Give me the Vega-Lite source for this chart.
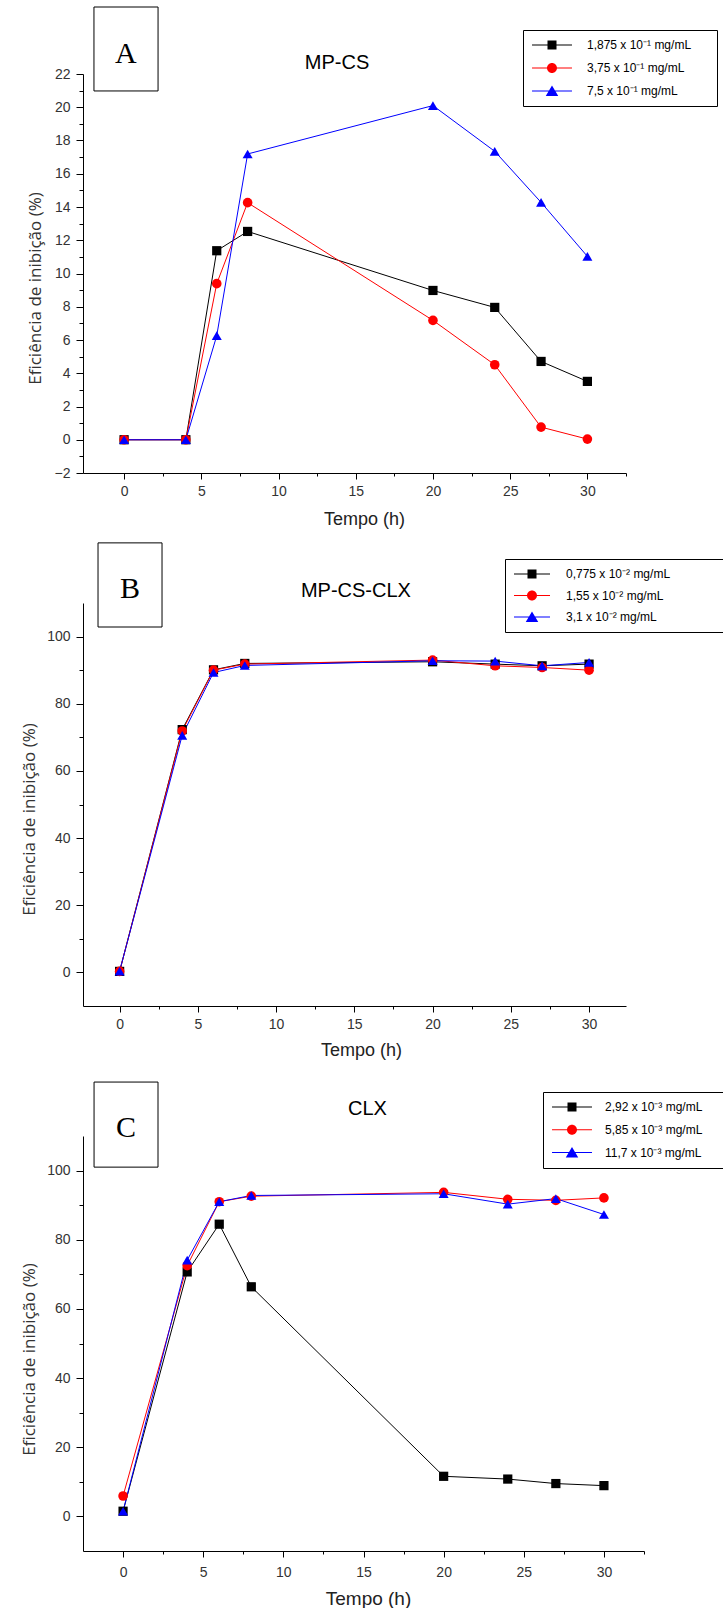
{
  "$schema": "https://vega.github.io/schema/vega-lite/v6.json",
  "background": "white",
  "padding": {"left": 20, "top": 6, "right": 0, "bottom": 0},
  "config": {"view": {"stroke": null}, "font": "Liberation Sans", "axis": {"grid": false}},
  "datasets": {
    "A": [
      {"series": "1,875 x 10⁻¹ mg/mL", "t": 0, "v": 0},
      {"series": "1,875 x 10⁻¹ mg/mL", "t": 4, "v": 0},
      {"series": "1,875 x 10⁻¹ mg/mL", "t": 6, "v": 11.37},
      {"series": "1,875 x 10⁻¹ mg/mL", "t": 8, "v": 12.53},
      {"series": "1,875 x 10⁻¹ mg/mL", "t": 20, "v": 8.98},
      {"series": "1,875 x 10⁻¹ mg/mL", "t": 24, "v": 7.96},
      {"series": "1,875 x 10⁻¹ mg/mL", "t": 27, "v": 4.71},
      {"series": "1,875 x 10⁻¹ mg/mL", "t": 30, "v": 3.51},
      {"series": "3,75 x 10⁻¹ mg/mL", "t": 0, "v": 0},
      {"series": "3,75 x 10⁻¹ mg/mL", "t": 4, "v": 0},
      {"series": "3,75 x 10⁻¹ mg/mL", "t": 6, "v": 9.39},
      {"series": "3,75 x 10⁻¹ mg/mL", "t": 8, "v": 14.26},
      {"series": "3,75 x 10⁻¹ mg/mL", "t": 20, "v": 7.18},
      {"series": "3,75 x 10⁻¹ mg/mL", "t": 24, "v": 4.51},
      {"series": "3,75 x 10⁻¹ mg/mL", "t": 27, "v": 0.76},
      {"series": "3,75 x 10⁻¹ mg/mL", "t": 30, "v": 0.04},
      {"series": "7,5 x 10⁻¹ mg/mL", "t": 0, "v": 0},
      {"series": "7,5 x 10⁻¹ mg/mL", "t": 4, "v": 0},
      {"series": "7,5 x 10⁻¹ mg/mL", "t": 6, "v": 6.26},
      {"series": "7,5 x 10⁻¹ mg/mL", "t": 8, "v": 17.19},
      {"series": "7,5 x 10⁻¹ mg/mL", "t": 20, "v": 20.1},
      {"series": "7,5 x 10⁻¹ mg/mL", "t": 24, "v": 17.35},
      {"series": "7,5 x 10⁻¹ mg/mL", "t": 27, "v": 14.28},
      {"series": "7,5 x 10⁻¹ mg/mL", "t": 30, "v": 11.03}
    ],
    "B": [
      {"series": "0,775 x 10⁻² mg/mL", "t": 0, "v": 0.3},
      {"series": "0,775 x 10⁻² mg/mL", "t": 4, "v": 72.3},
      {"series": "0,775 x 10⁻² mg/mL", "t": 6, "v": 90.1},
      {"series": "0,775 x 10⁻² mg/mL", "t": 8, "v": 92.0},
      {"series": "0,775 x 10⁻² mg/mL", "t": 20, "v": 92.5},
      {"series": "0,775 x 10⁻² mg/mL", "t": 24, "v": 91.8},
      {"series": "0,775 x 10⁻² mg/mL", "t": 27, "v": 91.3},
      {"series": "0,775 x 10⁻² mg/mL", "t": 30, "v": 91.8},
      {"series": "1,55 x 10⁻² mg/mL", "t": 0, "v": 0.3},
      {"series": "1,55 x 10⁻² mg/mL", "t": 4, "v": 71.9},
      {"series": "1,55 x 10⁻² mg/mL", "t": 6, "v": 90.0},
      {"series": "1,55 x 10⁻² mg/mL", "t": 8, "v": 91.8},
      {"series": "1,55 x 10⁻² mg/mL", "t": 20, "v": 93.0},
      {"series": "1,55 x 10⁻² mg/mL", "t": 24, "v": 91.3},
      {"series": "1,55 x 10⁻² mg/mL", "t": 27, "v": 90.8},
      {"series": "1,55 x 10⁻² mg/mL", "t": 30, "v": 90.0},
      {"series": "3,1 x 10⁻² mg/mL", "t": 0, "v": 0.4},
      {"series": "3,1 x 10⁻² mg/mL", "t": 4, "v": 70.6},
      {"series": "3,1 x 10⁻² mg/mL", "t": 6, "v": 89.3},
      {"series": "3,1 x 10⁻² mg/mL", "t": 8, "v": 91.4},
      {"series": "3,1 x 10⁻² mg/mL", "t": 20, "v": 92.8},
      {"series": "3,1 x 10⁻² mg/mL", "t": 24, "v": 92.7},
      {"series": "3,1 x 10⁻² mg/mL", "t": 27, "v": 91.3},
      {"series": "3,1 x 10⁻² mg/mL", "t": 30, "v": 92.3}
    ],
    "C": [
      {"series": "2,92 x 10⁻³ mg/mL", "t": 0, "v": 1.5},
      {"series": "2,92 x 10⁻³ mg/mL", "t": 4, "v": 70.7},
      {"series": "2,92 x 10⁻³ mg/mL", "t": 6, "v": 84.5},
      {"series": "2,92 x 10⁻³ mg/mL", "t": 8, "v": 66.4},
      {"series": "2,92 x 10⁻³ mg/mL", "t": 20, "v": 11.6},
      {"series": "2,92 x 10⁻³ mg/mL", "t": 24, "v": 10.8},
      {"series": "2,92 x 10⁻³ mg/mL", "t": 27, "v": 9.5},
      {"series": "2,92 x 10⁻³ mg/mL", "t": 30, "v": 8.9},
      {"series": "5,85 x 10⁻³ mg/mL", "t": 0, "v": 5.9},
      {"series": "5,85 x 10⁻³ mg/mL", "t": 4, "v": 72.5},
      {"series": "5,85 x 10⁻³ mg/mL", "t": 6, "v": 91.0},
      {"series": "5,85 x 10⁻³ mg/mL", "t": 8, "v": 92.6},
      {"series": "5,85 x 10⁻³ mg/mL", "t": 20, "v": 93.7},
      {"series": "5,85 x 10⁻³ mg/mL", "t": 24, "v": 91.7},
      {"series": "5,85 x 10⁻³ mg/mL", "t": 27, "v": 91.4},
      {"series": "5,85 x 10⁻³ mg/mL", "t": 30, "v": 92.1},
      {"series": "11,7 x 10⁻³ mg/mL", "t": 0, "v": 1.5},
      {"series": "11,7 x 10⁻³ mg/mL", "t": 4, "v": 74.1},
      {"series": "11,7 x 10⁻³ mg/mL", "t": 6, "v": 91.0},
      {"series": "11,7 x 10⁻³ mg/mL", "t": 8, "v": 92.8},
      {"series": "11,7 x 10⁻³ mg/mL", "t": 20, "v": 93.3},
      {"series": "11,7 x 10⁻³ mg/mL", "t": 24, "v": 90.3},
      {"series": "11,7 x 10⁻³ mg/mL", "t": 27, "v": 91.9},
      {"series": "11,7 x 10⁻³ mg/mL", "t": 30, "v": 87.3}
    ]
  },
  "vconcat": [
    {
      "width": 543,
      "height": 399,
      "layer": [
        {
          "data": {"name": "A"},
          "mark": {"type": "line", "strokeWidth": 1},
          "encoding": {
            "x": {"field": "t", "type": "quantitative", "scale": {"domain": [-2.66, 32.5], "nice": false, "zero": false},
              "axis": {"orient": "bottom", "values": [0, 5, 10, 15, 20, 25, 30], "tickSize": 6, "tickColor": "black", "domainColor": "black", "labelFont": "Liberation Sans", "labelFontSize": 14, "labelColor": "#333", "labelPadding": 5, "title": "Tempo (h)", "titleFont": "Liberation Sans", "titleFontSize": 18, "titleFontWeight": "normal", "titleColor": "#222", "titlePadding": 12, "titleX": 281}},
            "y": {"field": "v", "type": "quantitative", "scale": {"domain": [-2, 22], "nice": false, "zero": false},
              "axis": {"orient": "left", "values": [-2, 0, 2, 4, 6, 8, 10, 12, 14, 16, 18, 20, 22], "tickSize": 7, "tickColor": "black", "domainColor": "black", "labelFont": "Liberation Sans", "labelFontSize": 14, "labelColor": "#333", "labelPadding": 6, "title": "Eficiência de inibição (%)", "titleFont": "Open Sans", "titleFontSize": 17, "titleFontWeight": "normal", "titleColor": "#333", "titlePadding": 10, "titleY": 214}},
            "color": {"field": "series", "type": "nominal", "scale": {"domain": ["1,875 x 10⁻¹ mg/mL", "3,75 x 10⁻¹ mg/mL", "7,5 x 10⁻¹ mg/mL"], "range": ["#000000", "#ff0000", "#0000ff"]}, "legend": null}
          }
        },
        {
          "data": {"name": "A"},
          "mark": {"type": "point", "filled": true, "opacity": 1, "strokeWidth": 0},
          "encoding": {
            "x": {"field": "t", "type": "quantitative", "axis": {"orient": "bottom", "values": [2.5, 7.5, 12.5, 17.5, 22.5, 27.5, 32.5], "labels": false, "domain": false, "tickSize": 3, "tickColor": "black", "title": null}},
            "y": {"field": "v", "type": "quantitative", "axis": {"orient": "left", "values": [-1, 1, 3, 5, 7, 9, 11, 13, 15, 17, 19, 21], "labels": false, "domain": false, "tickSize": 4, "tickColor": "black", "title": null}},
            "fill": {"field": "series", "type": "nominal", "scale": {"domain": ["1,875 x 10⁻¹ mg/mL", "3,75 x 10⁻¹ mg/mL", "7,5 x 10⁻¹ mg/mL"], "range": ["#000000", "#ff0000", "#0000ff"]}, "legend": null},
            "shape": {"field": "series", "type": "nominal", "scale": {"domain": ["1,875 x 10⁻¹ mg/mL", "3,75 x 10⁻¹ mg/mL", "7,5 x 10⁻¹ mg/mL"], "range": ["square", "circle", "triangle-up"]}, "legend": null},
            "size": {"field": "series", "type": "nominal", "scale": {"domain": ["1,875 x 10⁻¹ mg/mL", "3,75 x 10⁻¹ mg/mL", "7,5 x 10⁻¹ mg/mL"], "range": [85, 100, 170]}, "legend": null}
          }
        },
        {
          "data": {"values": []},
          "mark": {"type": "point", "filled": true, "opacity": 1, "size": 144, "strokeWidth": 0},
          "encoding": {
            "color": {"field": "series", "type": "nominal", "scale": {"domain": ["1,875 x 10⁻¹ mg/mL", "3,75 x 10⁻¹ mg/mL", "7,5 x 10⁻¹ mg/mL"], "range": ["#000000", "#ff0000", "#0000ff"]},
              "legend": {"orient": "none", "legendX": 440, "legendY": -44, "title": null, "padding": 9, "strokeColor": "black", "fillColor": "white", "symbolSize": 144, "symbolStrokeWidth": 0, "symbolOffset": 14, "labelOffset": 29, "rowPadding": 11, "labelFont": "Liberation Sans", "labelFontSize": 12, "labelColor": "black", "labelLimit": 400, "labelExpr": "datum.label + '\u00a0\u00a0\u00a0\u00a0\u00a0\u200b'"}},
            "shape": {"field": "series", "type": "nominal", "scale": {"domain": ["1,875 x 10⁻¹ mg/mL", "3,75 x 10⁻¹ mg/mL", "7,5 x 10⁻¹ mg/mL"], "range": ["M-3.33,-0.085L3.33,-0.085L3.33,0.085L-3.33,0.085Z M-0.75,-0.75L0.75,-0.75L0.75,0.75L-0.75,0.75Z", "M-3.33,-0.085L3.33,-0.085L3.33,0.085L-3.33,0.085Z M-0.83,0A0.83,0.83 0 1,1 0.83,0A0.83,0.83 0 1,1 -0.83,0Z", "M-3.33,-0.085L3.33,-0.085L3.33,0.085L-3.33,0.085Z M0,-0.92L1.04,0.83L-1.04,0.83Z"]},
              "legend": {"orient": "none", "legendX": 440, "legendY": -44, "title": null, "padding": 9, "strokeColor": "black", "fillColor": "white", "symbolSize": 144, "symbolStrokeWidth": 0, "symbolOffset": 14, "labelOffset": 29, "rowPadding": 11, "labelFont": "Liberation Sans", "labelFontSize": 12, "labelColor": "black", "labelLimit": 400, "labelExpr": "datum.label + '\u00a0\u00a0\u00a0\u00a0\u00a0\u200b'"}}
          }
        },
        {
          "data": {"values": [{"label": "A", "title": "MP-CS"}]},
          "mark": {"type": "rect", "fill": "white", "stroke": "black", "strokeWidth": 1},
          "encoding": {
            "x": {"datum": -1.95, "type": "quantitative", "axis": null},
            "x2": {"datum": 2.2},
            "y": {"datum": 26.03, "type": "quantitative", "axis": null},
            "y2": {"datum": 20.98}
          }
        },
        {
          "data": {"values": [{"label": "A", "title": "MP-CS"}]},
          "mark": {"type": "text", "font": "Liberation Serif", "fontSize": 30, "baseline": "alphabetic", "align": "center", "color": "black"},
          "encoding": {
            "x": {"datum": 0.12, "type": "quantitative", "axis": null},
            "y": {"datum": 22.69, "type": "quantitative", "axis": null},
            "text": {"field": "label"}
          }
        },
        {
          "data": {"values": [{"label": "A", "title": "MP-CS"}]},
          "mark": {"type": "text", "font": "Liberation Sans", "fontSize": 20, "baseline": "alphabetic", "align": "center", "color": "black"},
          "encoding": {
            "x": {"datum": 13.79, "type": "quantitative", "axis": null},
            "y": {"datum": 22.3, "type": "quantitative", "axis": null},
            "text": {"field": "title"}
          }
        }
      ],
      "resolve": {"scale": {"color": "independent", "shape": "independent"}, "axis": {"x": "independent", "y": "independent"}}
    },
    {
      "width": 543,
      "height": 403,
      "layer": [
        {
          "data": {"name": "B"},
          "mark": {"type": "line", "strokeWidth": 1},
          "encoding": {
            "x": {"field": "t", "type": "quantitative", "scale": {"domain": [-2.34, 32.36], "nice": false, "zero": false},
              "axis": {"orient": "bottom", "values": [0, 5, 10, 15, 20, 25, 30], "tickSize": 6, "tickColor": "black", "domainColor": "black", "labelFont": "Liberation Sans", "labelFontSize": 14, "labelColor": "#333", "labelPadding": 5, "title": "Tempo (h)", "titleFont": "Liberation Sans", "titleFontSize": 18, "titleFontWeight": "normal", "titleColor": "#222", "titlePadding": 10, "titleX": 278}},
            "y": {"field": "v", "type": "quantitative", "scale": {"domain": [-10, 110], "nice": false, "zero": false},
              "axis": {"orient": "left", "values": [0, 20, 40, 60, 80, 100], "tickSize": 7, "tickColor": "black", "domainColor": "black", "labelFont": "Liberation Sans", "labelFontSize": 14, "labelColor": "#333", "labelPadding": 6, "title": "Eficiência de inibição (%)", "titleFont": "Open Sans", "titleFontSize": 17, "titleFontWeight": "normal", "titleColor": "#333", "titlePadding": 8, "titleY": 216}},
            "color": {"field": "series", "type": "nominal", "scale": {"domain": ["0,775 x 10⁻² mg/mL", "1,55 x 10⁻² mg/mL", "3,1 x 10⁻² mg/mL"], "range": ["#000000", "#ff0000", "#0000ff"]}, "legend": null}
          }
        },
        {
          "data": {"name": "B"},
          "mark": {"type": "point", "filled": true, "opacity": 1, "strokeWidth": 0},
          "encoding": {
            "x": {"field": "t", "type": "quantitative", "axis": {"orient": "bottom", "values": [2.5, 7.5, 12.5, 17.5, 22.5, 27.5, 32.5], "labels": false, "domain": false, "tickSize": 3, "tickColor": "black", "title": null}},
            "y": {"field": "v", "type": "quantitative", "axis": {"orient": "left", "values": [10, 30, 50, 70, 90], "labels": false, "domain": false, "tickSize": 4, "tickColor": "black", "title": null}},
            "fill": {"field": "series", "type": "nominal", "scale": {"domain": ["0,775 x 10⁻² mg/mL", "1,55 x 10⁻² mg/mL", "3,1 x 10⁻² mg/mL"], "range": ["#000000", "#ff0000", "#0000ff"]}, "legend": null},
            "shape": {"field": "series", "type": "nominal", "scale": {"domain": ["0,775 x 10⁻² mg/mL", "1,55 x 10⁻² mg/mL", "3,1 x 10⁻² mg/mL"], "range": ["square", "circle", "triangle-up"]}, "legend": null},
            "size": {"field": "series", "type": "nominal", "scale": {"domain": ["0,775 x 10⁻² mg/mL", "1,55 x 10⁻² mg/mL", "3,1 x 10⁻² mg/mL"], "range": [85, 100, 170]}, "legend": null}
          }
        },
        {
          "data": {"values": []},
          "mark": {"type": "point", "filled": true, "opacity": 1, "size": 144, "strokeWidth": 0},
          "encoding": {
            "color": {"field": "series", "type": "nominal", "scale": {"domain": ["0,775 x 10⁻² mg/mL", "1,55 x 10⁻² mg/mL", "3,1 x 10⁻² mg/mL"], "range": ["#000000", "#ff0000", "#0000ff"]},
              "legend": {"orient": "none", "legendX": 422, "legendY": -44, "title": null, "padding": 9, "strokeColor": "black", "fillColor": "white", "symbolSize": 144, "symbolStrokeWidth": 0, "symbolOffset": 12, "labelOffset": 28, "rowPadding": 9.5, "labelFont": "Liberation Sans", "labelFontSize": 12, "labelColor": "black", "labelLimit": 400, "labelExpr": "datum.label + '\u00a0\u00a0\u00a0\u00a0\u00a0\u00a0\u00a0\u00a0\u00a0\u00a0\u00a0\u00a0\u00a0\u200b'"}},
            "shape": {"field": "series", "type": "nominal", "scale": {"domain": ["0,775 x 10⁻² mg/mL", "1,55 x 10⁻² mg/mL", "3,1 x 10⁻² mg/mL"], "range": ["M-3,-0.085L3,-0.085L3,0.085L-3,0.085Z M-0.75,-0.75L0.75,-0.75L0.75,0.75L-0.75,0.75Z", "M-3,-0.085L3,-0.085L3,0.085L-3,0.085Z M-0.83,0A0.83,0.83 0 1,1 0.83,0A0.83,0.83 0 1,1 -0.83,0Z", "M-3,-0.085L3,-0.085L3,0.085L-3,0.085Z M0,-0.92L1.04,0.83L-1.04,0.83Z"]},
              "legend": {"orient": "none", "legendX": 422, "legendY": -44, "title": null, "padding": 9, "strokeColor": "black", "fillColor": "white", "symbolSize": 144, "symbolStrokeWidth": 0, "symbolOffset": 12, "labelOffset": 28, "rowPadding": 9.5, "labelFont": "Liberation Sans", "labelFontSize": 12, "labelColor": "black", "labelLimit": 400, "labelExpr": "datum.label + '\u00a0\u00a0\u00a0\u00a0\u00a0\u00a0\u00a0\u00a0\u00a0\u00a0\u00a0\u00a0\u00a0\u200b'"}}
          }
        },
        {
          "data": {"values": [{"label": "B", "title": "MP-CS-CLX"}]},
          "mark": {"type": "rect", "fill": "white", "stroke": "black", "strokeWidth": 1},
          "encoding": {
            "x": {"datum": -1.38, "type": "quantitative", "axis": null},
            "x2": {"datum": 2.71},
            "y": {"datum": 127.9, "type": "quantitative", "axis": null},
            "y2": {"datum": 102.85}
          }
        },
        {
          "data": {"values": [{"label": "B", "title": "MP-CS-CLX"}]},
          "mark": {"type": "text", "font": "Liberation Serif", "fontSize": 30, "baseline": "alphabetic", "align": "center", "color": "black"},
          "encoding": {
            "x": {"datum": 0.66, "type": "quantitative", "axis": null},
            "y": {"datum": 111.5, "type": "quantitative", "axis": null},
            "text": {"field": "label"}
          }
        },
        {
          "data": {"values": [{"label": "B", "title": "MP-CS-CLX"}]},
          "mark": {"type": "text", "font": "Liberation Sans", "fontSize": 20, "baseline": "alphabetic", "align": "center", "color": "black"},
          "encoding": {
            "x": {"datum": 15.1, "type": "quantitative", "axis": null},
            "y": {"datum": 111.8, "type": "quantitative", "axis": null},
            "text": {"field": "title"}
          }
        }
      ],
      "resolve": {"scale": {"color": "independent", "shape": "independent"}, "axis": {"x": "independent", "y": "independent"}}
    },
    {
      "width": 561,
      "height": 415,
      "layer": [
        {
          "data": {"name": "C"},
          "mark": {"type": "line", "strokeWidth": 1},
          "encoding": {
            "x": {"field": "t", "type": "quantitative", "scale": {"domain": [-2.5, 32.5], "nice": false, "zero": false},
              "axis": {"orient": "bottom", "values": [0, 5, 10, 15, 20, 25, 30], "tickSize": 6, "tickColor": "black", "domainColor": "black", "labelFont": "Liberation Sans", "labelFontSize": 14, "labelColor": "#333", "labelPadding": 8, "title": "Tempo (h)", "titleFont": "Liberation Sans", "titleFontSize": 19, "titleFontWeight": "normal", "titleColor": "#222", "titlePadding": 10, "titleX": 285}},
            "y": {"field": "v", "type": "quantitative", "scale": {"domain": [-10, 110], "nice": false, "zero": false},
              "axis": {"orient": "left", "values": [0, 20, 40, 60, 80, 100], "tickSize": 7, "tickColor": "black", "domainColor": "black", "labelFont": "Liberation Sans", "labelFontSize": 14, "labelColor": "#333", "labelPadding": 6, "title": "Eficiência de inibição (%)", "titleFont": "Open Sans", "titleFontSize": 17, "titleFontWeight": "normal", "titleColor": "#333", "titlePadding": 8, "titleY": 223}},
            "color": {"field": "series", "type": "nominal", "scale": {"domain": ["2,92 x 10⁻³ mg/mL", "5,85 x 10⁻³ mg/mL", "11,7 x 10⁻³ mg/mL"], "range": ["#000000", "#ff0000", "#0000ff"]}, "legend": null}
          }
        },
        {
          "data": {"name": "C"},
          "mark": {"type": "point", "filled": true, "opacity": 1, "strokeWidth": 0},
          "encoding": {
            "x": {"field": "t", "type": "quantitative", "axis": {"orient": "bottom", "values": [2.5, 7.5, 12.5, 17.5, 22.5, 27.5, 32.5], "labels": false, "domain": false, "tickSize": 3, "tickColor": "black", "title": null}},
            "y": {"field": "v", "type": "quantitative", "axis": {"orient": "left", "values": [10, 30, 50, 70, 90], "labels": false, "domain": false, "tickSize": 4, "tickColor": "black", "title": null}},
            "fill": {"field": "series", "type": "nominal", "scale": {"domain": ["2,92 x 10⁻³ mg/mL", "5,85 x 10⁻³ mg/mL", "11,7 x 10⁻³ mg/mL"], "range": ["#000000", "#ff0000", "#0000ff"]}, "legend": null},
            "shape": {"field": "series", "type": "nominal", "scale": {"domain": ["2,92 x 10⁻³ mg/mL", "5,85 x 10⁻³ mg/mL", "11,7 x 10⁻³ mg/mL"], "range": ["square", "circle", "triangle-up"]}, "legend": null},
            "size": {"field": "series", "type": "nominal", "scale": {"domain": ["2,92 x 10⁻³ mg/mL", "5,85 x 10⁻³ mg/mL", "11,7 x 10⁻³ mg/mL"], "range": [85, 100, 170]}, "legend": null}
          }
        },
        {
          "data": {"values": []},
          "mark": {"type": "point", "filled": true, "opacity": 1, "size": 144, "strokeWidth": 0},
          "encoding": {
            "color": {"field": "series", "type": "nominal", "scale": {"domain": ["2,92 x 10⁻³ mg/mL", "5,85 x 10⁻³ mg/mL", "11,7 x 10⁻³ mg/mL"], "range": ["#000000", "#ff0000", "#0000ff"]},
              "legend": {"orient": "none", "legendX": 460, "legendY": -44, "title": null, "padding": 9, "strokeColor": "black", "fillColor": "white", "symbolSize": 144, "symbolStrokeWidth": 0, "symbolOffset": 14, "labelOffset": 27, "rowPadding": 10.8, "labelFont": "Liberation Sans", "labelFontSize": 12, "labelColor": "black", "labelLimit": 400, "labelExpr": "datum.label + '\u00a0\u00a0\u00a0\u00a0\u00a0\u200b'"}},
            "shape": {"field": "series", "type": "nominal", "scale": {"domain": ["2,92 x 10⁻³ mg/mL", "5,85 x 10⁻³ mg/mL", "11,7 x 10⁻³ mg/mL"], "range": ["M-3.33,-0.085L3.33,-0.085L3.33,0.085L-3.33,0.085Z M-0.75,-0.75L0.75,-0.75L0.75,0.75L-0.75,0.75Z", "M-3.33,-0.085L3.33,-0.085L3.33,0.085L-3.33,0.085Z M-0.83,0A0.83,0.83 0 1,1 0.83,0A0.83,0.83 0 1,1 -0.83,0Z", "M-3.33,-0.085L3.33,-0.085L3.33,0.085L-3.33,0.085Z M0,-0.92L1.04,0.83L-1.04,0.83Z"]},
              "legend": {"orient": "none", "legendX": 460, "legendY": -44, "title": null, "padding": 9, "strokeColor": "black", "fillColor": "white", "symbolSize": 144, "symbolStrokeWidth": 0, "symbolOffset": 14, "labelOffset": 27, "rowPadding": 10.8, "labelFont": "Liberation Sans", "labelFontSize": 12, "labelColor": "black", "labelLimit": 400, "labelExpr": "datum.label + '\u00a0\u00a0\u00a0\u00a0\u00a0\u200b'"}}
          }
        },
        {
          "data": {"values": [{"label": "C", "title": "CLX"}]},
          "mark": {"type": "rect", "fill": "white", "stroke": "black", "strokeWidth": 1},
          "encoding": {
            "x": {"datum": -1.81, "type": "quantitative", "axis": null},
            "x2": {"datum": 2.18},
            "y": {"datum": 125.6, "type": "quantitative", "axis": null},
            "y2": {"datum": 101.0}
          }
        },
        {
          "data": {"values": [{"label": "C", "title": "CLX"}]},
          "mark": {"type": "text", "font": "Liberation Serif", "fontSize": 30, "baseline": "alphabetic", "align": "center", "color": "black"},
          "encoding": {
            "x": {"datum": 0.19, "type": "quantitative", "axis": null},
            "y": {"datum": 109.7, "type": "quantitative", "axis": null},
            "text": {"field": "label"}
          }
        },
        {
          "data": {"values": [{"label": "C", "title": "CLX"}]},
          "mark": {"type": "text", "font": "Liberation Sans", "fontSize": 20, "baseline": "alphabetic", "align": "center", "color": "black"},
          "encoding": {
            "x": {"datum": 15.25, "type": "quantitative", "axis": null},
            "y": {"datum": 116.07, "type": "quantitative", "axis": null},
            "text": {"field": "title"}
          }
        }
      ],
      "resolve": {"scale": {"color": "independent", "shape": "independent"}, "axis": {"x": "independent", "y": "independent"}}
    }
  ],
  "spacing": 130,
  "bounds": "flush",
  "resolve": {"scale": {"color": "independent", "fill": "independent", "shape": "independent", "size": "independent"}}
}
